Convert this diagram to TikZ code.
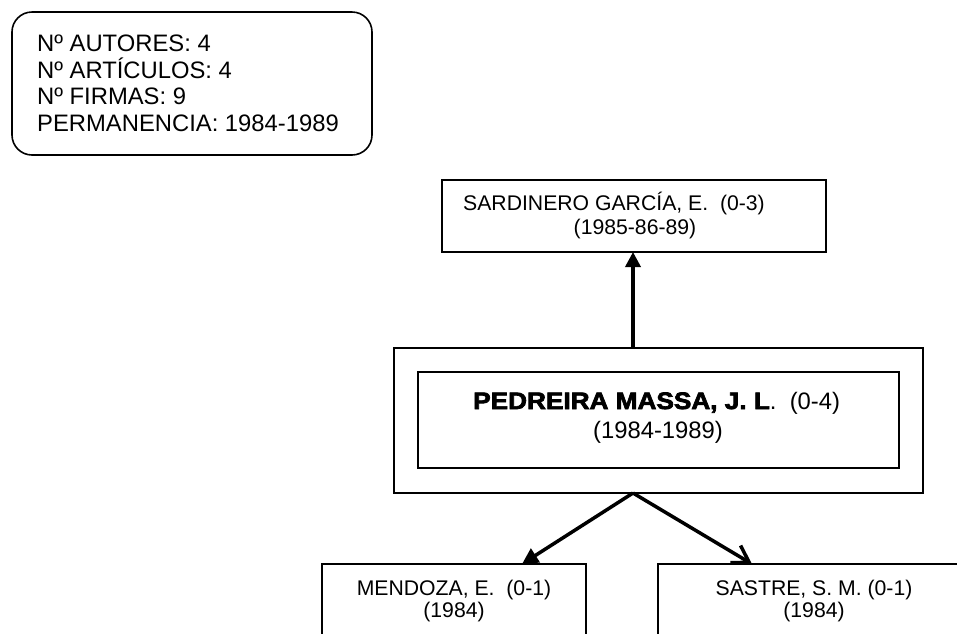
\documentclass[tikz,border=0pt]{standalone}
\usepackage{fontspec}
\setmainfont{Liberation Sans}
\newfontfamily\heavyfont[FakeStretch=1.1,FakeBold=3]{Liberation Sans}
\usetikzlibrary{arrows.meta}
\begin{document}
\begin{tikzpicture}[x=1pt,y=-1pt,
  boxst/.style={draw=black,line width=1.6pt,inner sep=0pt,outer sep=0pt,fill=none},
  bigtxt/.style={inner sep=0pt,font=\fontsize{23.8pt}{27pt}\selectfont\frenchspacing},
  smalltxt/.style={inner sep=0pt,font=\fontsize{21.2pt}{22pt}\selectfont\frenchspacing},
  conn/.style={line width=3.5pt,draw=black}]
\useasboundingbox (0,0) rectangle (957,633);
\clip (0,0) rectangle (957,633);
% stats box
\node[boxst,rounded corners=20pt,minimum width=360pt,minimum height=143pt] (stats) at (192,83.5) {};
\node[bigtxt,anchor=base west] (s1) at (37,51) {Nº AUTORES: 4};
\node[bigtxt,anchor=base west] (s2) at (37,78) {Nº ARTÍCULOS: 4};
\node[bigtxt,anchor=base west] (s3) at (37,104.5) {Nº FIRMAS: 9};
\node[bigtxt,anchor=base west] (s4) at (37,131) {PERMANENCIA: 1984-1989};
% Sardinero
\node[boxst,minimum width=384pt,minimum height=72pt] (sar) at (634,216) {};
\node[smalltxt,anchor=base west] (sar1) at (463,210) {SARDINERO GARCÍA, E.\ \ (0-3)};
\node[smalltxt,anchor=base] (sar2) at (635,234) {(1985-86-89)};
% Pedreira
\node[boxst,minimum width=529pt,minimum height=145pt] (pedout) at (658.5,420.5) {};
\node[boxst,line width=2pt,minimum width=481pt,minimum height=96pt] (pedin) at (658.5,420) {};
\node[bigtxt,anchor=base west] (ped1) at (473,409) {{\heavyfont\bfseries PEDREIRA MASSA, J. L}.\ \ (0-4)};
\node[bigtxt,anchor=base] (ped2) at (658,438) {(1984-1989)};
% Mendoza
\node[boxst,minimum width=264pt,minimum height=80pt] (men) at (454,604) {};
\node[smalltxt,anchor=base] (men1) at (454,595) {MENDOZA, E.\ \ (0-1)};
\node[smalltxt,anchor=base] (men2) at (454,617) {(1984)};
% Sastre
\node[boxst,minimum width=312pt,minimum height=80pt] (sas) at (814,604) {};
\node[smalltxt,anchor=base] (sas1) at (814,595) {SASTRE, S. M. (0-1)};
\node[smalltxt,anchor=base] (sas2) at (814,617) {(1984)};
% connector anchors
\coordinate (pedtop) at (633,348);
\coordinate (pedbot) at (633,493);
\coordinate (sarbot) at (633,252);
\coordinate (mentop) at (522,564);
\coordinate (sastop) at (752,564);
% connectors
\draw[conn,-{Triangle[length=15pt,width=15pt]}] (pedtop) -- (sarbot);
\draw[conn,-{Triangle[length=16pt,width=16pt]}] (pedbot) -- (mentop);
\draw[conn,-{Straight Barb[length=16pt,width=20pt]}] (pedbot) -- (sastop);
\end{tikzpicture}
\end{document}
